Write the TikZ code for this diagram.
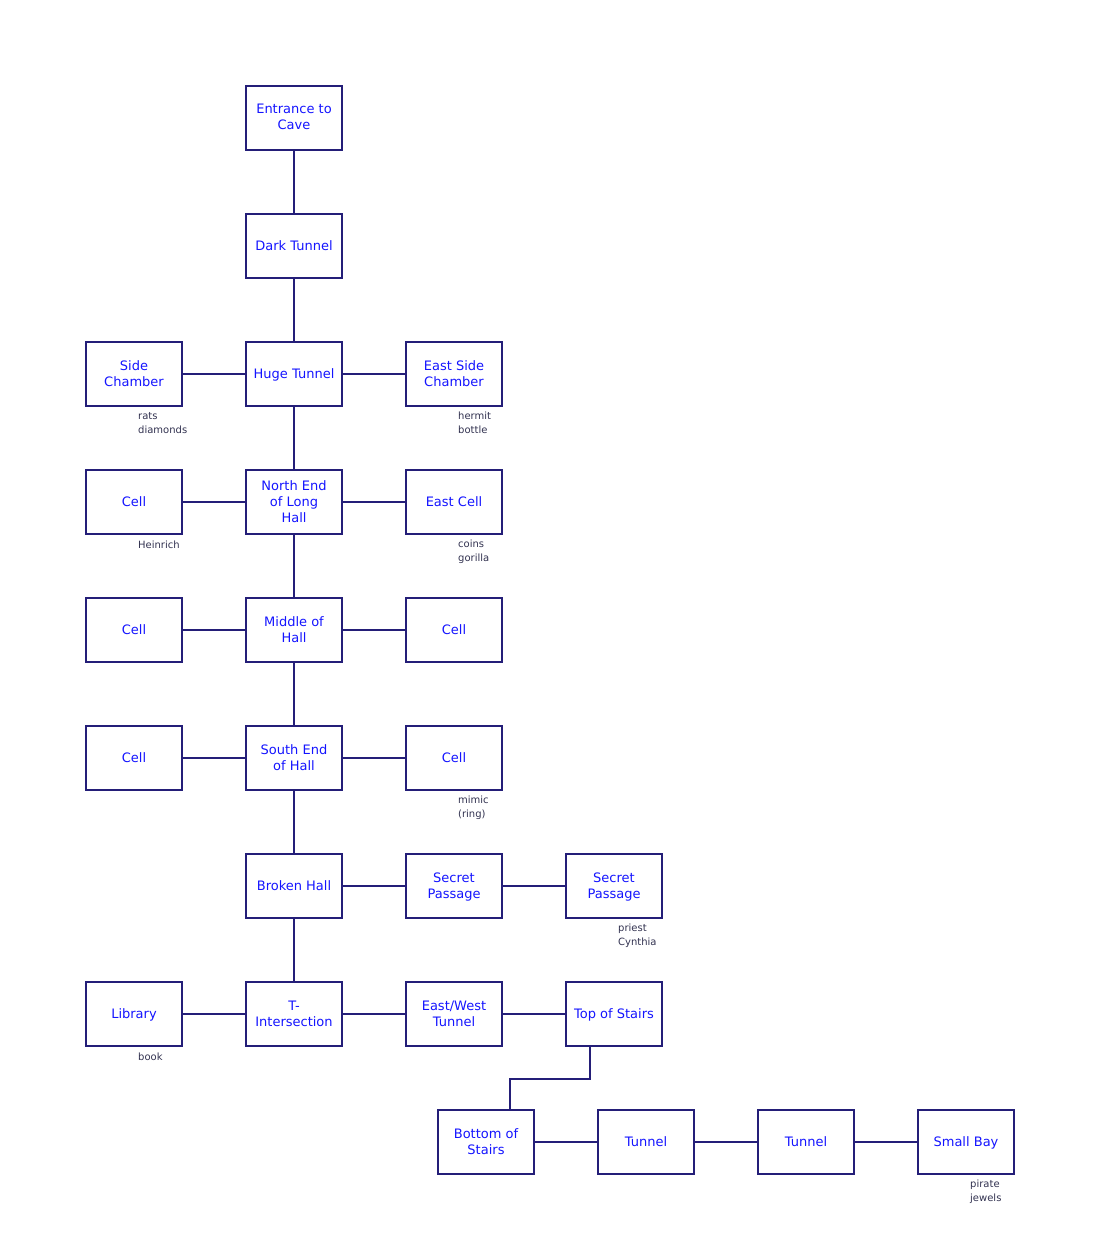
\documentclass[tikz,border=0pt]{standalone}
\usepackage{fontspec}
\setmainfont{DejaVu Sans}
\definecolor{edgecol}{RGB}{36,30,120}
\definecolor{roomtext}{RGB}{20,20,255}
\definecolor{notetext}{RGB}{50,50,80}
\tikzset{
  room/.style={draw=edgecol, line width=2pt, minimum width=96pt, minimum height=64pt,
    inner sep=0pt, align=center, text=roomtext, font=\fontsize{13}{16}\selectfont,
    text depth=1.5pt},
  note/.style={anchor=north west, inner sep=0pt, align=left, text=notetext,
    font=\fontsize{10}{14}\selectfont},
  link/.style={draw=edgecol, line width=2pt}
}
\begin{document}
\begin{tikzpicture}[x=1pt, y=-1pt]
      \useasboundingbox (0,0) rectangle (1100,1260);
      \node[room] (ent) at (294,118) {Entrance to\\Cave};
      \node[room] (dark) at (294,246) {Dark Tunnel};
      \node[room] (huge) at (294,374) {Huge Tunnel};
      \node[room] (side) at (134,374) {Side\\Chamber};
      \node[room] (eside) at (454,374) {East Side\\Chamber};
      \node[room] (nend) at (294,502) {North End\\of Long\\Hall};
      \node[room] (cellA) at (134,502) {Cell};
      \node[room] (ecell) at (454,502) {East Cell};
      \node[room] (mid) at (294,630) {Middle of\\Hall};
      \node[room] (cellB) at (134,630) {Cell};
      \node[room] (cellC) at (454,630) {Cell};
      \node[room] (send) at (294,758) {South End\\of Hall};
      \node[room] (cellD) at (134,758) {Cell};
      \node[room] (cellE) at (454,758) {Cell};
      \node[room] (broken) at (294,886) {Broken Hall};
      \node[room] (secA) at (454,886) {Secret\\Passage};
      \node[room] (secB) at (614,886) {Secret\\Passage};
      \node[room] (tint) at (294,1014) {T-\\Intersection};
      \node[room] (lib) at (134,1014) {Library};
      \node[room] (ewt) at (454,1014) {East/West\\Tunnel};
      \node[room] (tops) at (614,1014) {Top of Stairs};
      \node[room] (bots) at (486,1142) {Bottom of\\Stairs};
      \node[room] (tunA) at (646,1142) {Tunnel};
      \node[room] (tunB) at (806,1142) {Tunnel};
      \node[room] (bay) at (966,1142) {Small Bay};
      % what lies in the rooms
      \node[note] (nside) at ([xshift=4pt,yshift=-5pt]side.south) {rats\\diamonds};
      \node[note] (neside) at ([xshift=4pt,yshift=-5pt]eside.south) {hermit\\bottle};
      \node[note] (ncellA) at ([xshift=4pt,yshift=-6pt]cellA.south) {Heinrich};
      \node[note] (necell) at ([xshift=4pt,yshift=-5pt]ecell.south) {coins\\gorilla};
      \node[note] (ncellE) at ([xshift=4pt,yshift=-5pt]cellE.south) {mimic\\(ring)};
      \node[note] (nsecB) at ([xshift=4pt,yshift=-5pt]secB.south) {priest\\Cynthia};
      \node[note] (nlib) at ([xshift=4pt,yshift=-6pt]lib.south) {book};
      \node[note] (nbay) at ([xshift=4pt,yshift=-5pt]bay.south) {pirate\\jewels};
      % passages
      \draw[link] (ent) -- (dark);
      \draw[link] (dark) -- (huge);
      \draw[link] (huge) -- (nend);
      \draw[link] (nend) -- (mid);
      \draw[link] (mid) -- (send);
      \draw[link] (send) -- (broken);
      \draw[link] (broken) -- (tint);
      \draw[link] (side) -- (huge);
      \draw[link] (huge) -- (eside);
      \draw[link] (cellA) -- (nend);
      \draw[link] (nend) -- (ecell);
      \draw[link] (cellB) -- (mid);
      \draw[link] (mid) -- (cellC);
      \draw[link] (cellD) -- (send);
      \draw[link] (send) -- (cellE);
      \draw[link] (broken) -- (secA);
      \draw[link] (secA) -- (secB);
      \draw[link] (lib) -- (tint);
      \draw[link] (tint) -- (ewt);
      \draw[link] (ewt) -- (tops);
      \draw[link] ([xshift=-24pt]tops.south) -- ++(0,32) -| ([xshift=24pt]bots.north);
      \draw[link] (bots) -- (tunA);
      \draw[link] (tunA) -- (tunB);
      \draw[link] (tunB) -- (bay);
   \end{tikzpicture}
\end{document}
